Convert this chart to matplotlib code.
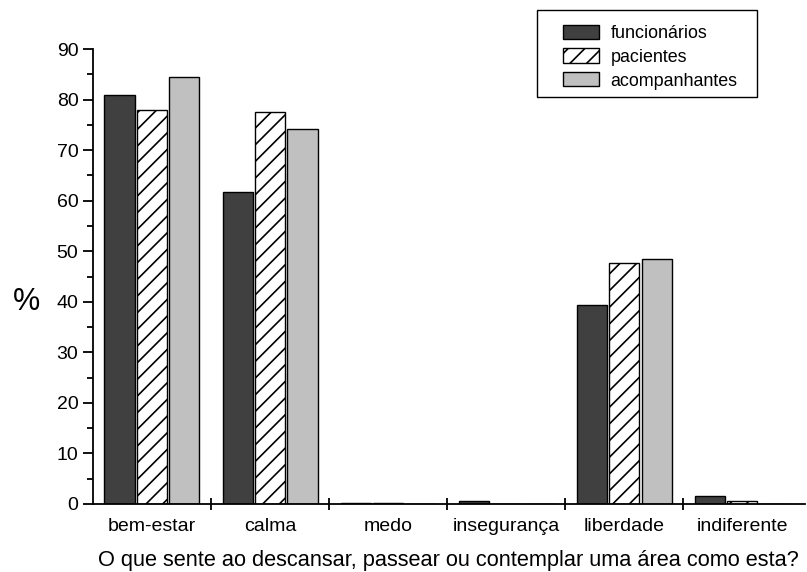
import numpy as np
import matplotlib.pyplot as plt
from matplotlib.patches import Rectangle
from matplotlib.ticker import MultipleLocator, FixedLocator

plt.rcParams['font.family'] = ['Liberation Sans', 'DejaVu Sans']
plt.rcParams['hatch.linewidth'] = 1.2

categories = ['bem-estar', 'calma', 'medo', 'insegurança', 'liberdade', 'indiferente']
funcionarios = [81.0, 61.8, 0.2, 0.6, 39.3, 1.6]
pacientes = [77.9, 77.6, 0.2, 0.0, 47.6, 0.6]
acompanhantes = [84.4, 74.2, 0.0, 0.0, 48.5, 0.0]

fig = plt.figure(figsize=(8.07, 5.72), dpi=100)
ax = fig.add_axes([0.1152, 0.1189, 0.882, 0.7954])

x = np.arange(len(categories))
w = 0.255
step = 0.275
ax.bar(x - step, funcionarios, w, color='#404040', edgecolor='black', lw=1,
       label='funcionários')
ax.bar(x, pacientes, w, color='white', edgecolor='black', lw=1, hatch='//',
       label='pacientes')
ax.bar(x + step, acompanhantes, w, color='#c0c0c0', edgecolor='black', lw=1,
       label='acompanhantes')

ax.set_xlim(-0.5, 5.53)
ax.set_ylim(0, 90)
for s in ['top', 'right']:
    ax.spines[s].set_visible(False)
for s in ['left', 'bottom']:
    ax.spines[s].set_linewidth(1.3)

ax.yaxis.set_major_locator(MultipleLocator(10))
ax.yaxis.set_minor_locator(MultipleLocator(5))
ax.tick_params(axis='y', which='major', direction='out', length=7, width=1.3,
               labelsize=14)
ax.tick_params(axis='y', which='minor', direction='out', length=4, width=1.3)

ax.set_xticks(x)
ax.set_xticklabels(categories)
ax.xaxis.set_minor_locator(FixedLocator(x[:-1] + 0.5))
ax.tick_params(axis='x', which='major', length=0, labelsize=14, pad=10)
ax.tick_params(axis='x', which='minor', direction='inout', length=9, width=1.3)

ax.set_xlabel('O que sente ao descansar, passear ou contemplar uma área como esta?',
              fontsize=15.7, labelpad=11)
ax.set_ylabel('%', fontsize=22, rotation=0, va='center', ha='center')
ax.yaxis.set_label_coords(-0.0935, 40 / 90)

# legend box drawn separately so the padding can be wider than tall
fig.patches.append(Rectangle((0.6654, 0.8304), 0.2726, 0.1521,
                             transform=fig.transFigure, fill=False,
                             edgecolor='black', lw=1.0))
fig.legend(loc='upper left', bbox_to_anchor=(0.6976, 0.957),
           fontsize=12.9, frameon=False, borderpad=0, borderaxespad=0,
           handlelength=2.0, handleheight=0.85, labelspacing=0.36,
           handletextpad=0.66)

fig.savefig('out.png', dpi=100)
